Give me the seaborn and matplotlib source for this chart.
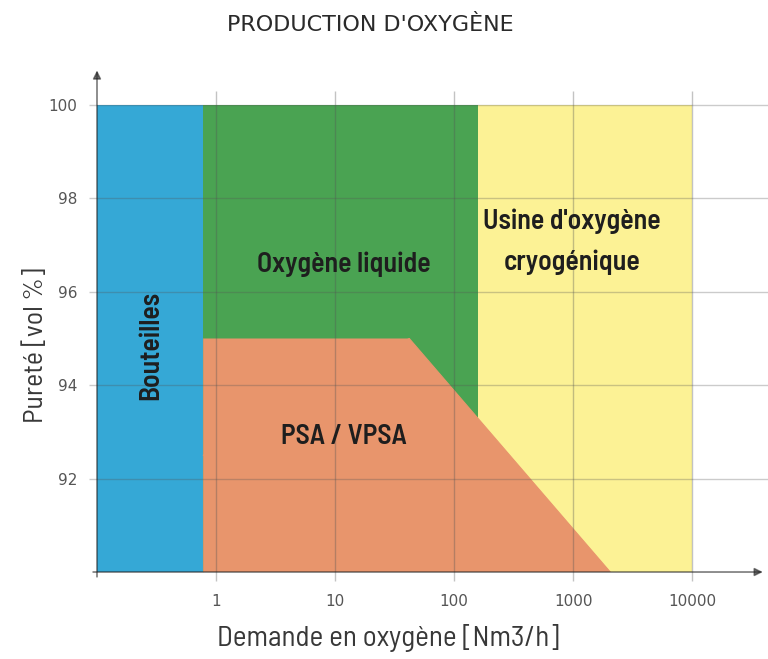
import numpy as np
import pandas as pd
import matplotlib
matplotlib.use("Agg")
import matplotlib.pyplot as plt
import seaborn as sns

# ---- data ----
x_ticks = [1, 10, 100, 1000, 10000]
x_tick_labels = ["1", "10", "100", "1000", "10000"]
y_ticks = [92, 94, 96, 98, 100]
y_tick_labels = ["92", "94", "96", "98", "100"]

bottles_x = [0.1, 0.78]
liquid_x = [0.78, 160]
cryo_x = [160, 10000]
psa_x = [0.78, 0.78, 42, 2050]
psa_y = [90, 95, 95, 90]
y_range = [90, 100]

labels = ["Bouteilles", "Oxygène liquide", "PSA / VPSA", "Usine d'oxygène\ncryogénique"]
label_x = [0.285, 11.8, 11.8, 983]
label_y = [94.86, 96.6, 92.9, 97.08]

sns.set_theme(style="white")
COND = ['Barlow Semi Condensed', 'DejaVu Sans']
plt.rcParams['font.family'] = ['DejaVu Sans']

fig = plt.figure(figsize=(7.68, 6.59), dpi=100)
ax = fig.add_axes([0.1263, 0.132, 0.868, 0.7654])
ax.set_xscale("log")
ax.set_xlim(0.1, 10 ** 4.6)
ax.set_ylim(90, 100.8)

c_blue = "#35a8d6"
c_green = "#4aa352"
c_orange = "#e8956c"
c_yellow = "#fcf295"

ax.fill_between(bottles_x, y_range[0], y_range[1], color=c_blue, lw=0, zorder=1)
ax.fill_between(liquid_x, y_range[0], y_range[1], color=c_green, lw=0, zorder=1)
ax.fill_between(cryo_x, y_range[0], y_range[1], color=c_yellow, lw=0, zorder=1)
ax.fill(psa_x, psa_y, color=c_orange, lw=0, zorder=2)
psa_df = pd.DataFrame({"x": psa_x, "y": psa_y})
sns.lineplot(data=psa_df, x="x", y="y", sort=False, color=c_orange, lw=0.8, ax=ax, zorder=2)

ax.vlines(x_ticks, 89.8, 100.3, color="#555555", alpha=0.35, lw=1, zorder=3, clip_on=False)
ax.hlines(y_ticks, 0.085, 10 ** 4.65, color="#555555", alpha=0.3, lw=1, zorder=3, clip_on=False)

for s in ax.spines.values():
    s.set_visible(False)
ax.annotate("", xy=(1.003, 0), xytext=(-0.01, 0), xycoords="axes fraction",
            arrowprops=dict(arrowstyle="-|>", color="#222222", lw=1.2, alpha=0.6,
                            mutation_scale=12), zorder=4)
ax.annotate("", xy=(0, 1.0), xytext=(0, -0.015), xycoords="axes fraction",
            arrowprops=dict(arrowstyle="-|>", color="#222222", lw=1.2, alpha=0.6,
                            mutation_scale=12), zorder=4)

ax.set_xticks(x_ticks)
ax.set_xticklabels(x_tick_labels)
ax.set_yticks(y_ticks)
ax.set_yticklabels(y_tick_labels)
ax.minorticks_off()
ax.tick_params(axis="both", length=0, labelsize=11, labelcolor="#555555")
ax.tick_params(axis="x", pad=16)
ax.tick_params(axis="y", pad=14)

kw = dict(ha="center", va="center", fontsize=20, fontweight="semibold", color="#1e1e1e",
          family=COND, zorder=5)
ax.text(label_x[0], label_y[0], labels[0], rotation=90, **kw)
ax.text(label_x[1], label_y[1], labels[1], **kw)
ax.text(label_x[2], label_y[2], labels[2], **kw)
ax.text(label_x[3], label_y[3], labels[3], linespacing=1.75, **kw)

ax.set_xlabel("Demande en oxygène [Nm3/h]", fontsize=21, color="#383838",
              family=COND, fontweight="normal")
ax.set_ylabel("Pureté [vol %]", fontsize=20, color="#383838",
              family=COND, fontweight="normal")
ax.xaxis.set_label_coords(0.4365, -0.103)
ax.yaxis.set_label_coords(-0.0735, 0.45)
fig.text(0.482, 0.962, "PRODUCTION D'OXYGÈNE", ha="center", va="center",
         fontsize=16, color="#2a2a2a")

fig.savefig("out.png", dpi=100, facecolor="white")
